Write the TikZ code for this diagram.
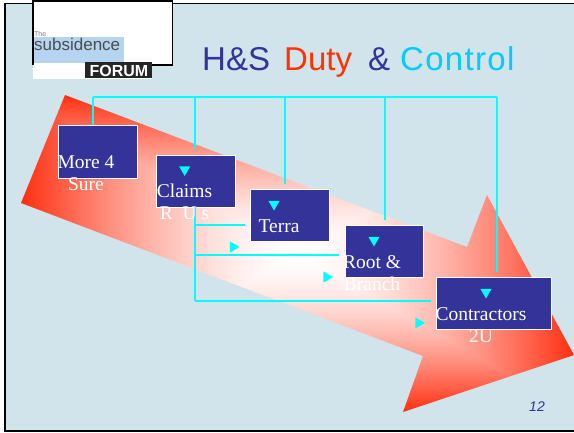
\documentclass[tikz,border=0pt]{standalone}
\usepackage{fontspec}
\setmainfont{Liberation Serif}
\newfontfamily\arialf{Liberation Sans}
\usetikzlibrary{shapes.geometric}
\pgfdeclarefunctionalshading{arrowglow}{\pgfpointorigin}{\pgfpoint{100bp}{100bp}}{}{
  50 sub abs exch 50 sub abs
  2 copy gt {pop} {exch pop} ifelse
  25 div 1.6 exp
  dup 0.82 mul 1 exch sub exch 0.94 mul 1 exch sub
  1 3 1 roll
}
\definecolor{slidebg}{HTML}{D1E3EB}
\definecolor{boxblue}{HTML}{333399}
\definecolor{ctrlblue}{HTML}{00CCFF}
\definecolor{dutyred}{HTML}{FF3300}
\definecolor{linkcyan}{HTML}{00FFFF}
\definecolor{logoblue}{HTML}{B4D4F0}
\tikzset{
  actor/.style={draw=white,fill=boxblue,line width=1.3pt,inner sep=0pt,anchor=north west},
  label/.style={text=white,font=\fontsize{19.5}{22}\selectfont,align=center,inner sep=0pt},
  link/.style={draw=linkcyan,line width=1.6pt},
  tridown/.style={regular polygon,regular polygon sides=3,shape border rotate=180,fill=linkcyan,inner sep=0pt,minimum size=13pt},
  triright/.style={regular polygon,regular polygon sides=3,shape border rotate=-90,fill=linkcyan,inner sep=0pt,minimum size=13pt},
  titlepart/.style={font=\arialf\fontsize{33}{36}\selectfont,inner sep=0pt,anchor=base west}
}
\begin{document}
\begin{tikzpicture}[x=1pt,y=-1pt]
\useasboundingbox (0,0) rectangle (574,432);
\fill[white] (0,0) rectangle (574,432);
\draw[black,line width=1.5pt,fill=slidebg] (5,3.5) rectangle (576,431);
% logo
\fill[white] (33,0) rectangle (172,65);
\fill[white] (33,65) rectangle (152,79);
\draw[black,line width=1.5pt] (33,65) -- (33,1) -- (172.5,1) -- (172.5,65) -- (152,65);
\fill[logoblue] (34,37) rectangle (124,63);
\node[inner sep=0pt,anchor=base west,text=black!50,font=\arialf\fontsize{7}{8}\selectfont] (logoa) at (34,36) {The};
\node[inner sep=0pt,anchor=base west,text=black!70,font=\arialf\fontsize{17}{18}\selectfont] (logob) at (34,50) {subsidence};
\fill[black!85] (85,62) rectangle (152,78);
\node[inner sep=0pt,anchor=base,text=white,font=\arialf\bfseries\fontsize{16}{17}\selectfont] (logoc) at (119,76) {FORUM};
% title
\node[titlepart,text=boxblue] (t1) at (202,70) {H\&S};
\node[titlepart,text=dutyred] (t2) at (284,70) {Duty};
\node[titlepart,text=boxblue] (t3) at (368,70) {\&};
\node[titlepart,text=ctrlblue] (t4) at (400,70) {\addfontfeature{LetterSpace=4}Control};
% arrow
\path[shading=arrowglow] (65,95) -- (467,247) -- (487,195) -- (574,355) -- (403,412) -- (423,356) -- (21,203) -- cycle;
% boxes
\node[actor,minimum width=79pt,minimum height=53pt] (more) at (58,125) {};
\node[actor,minimum width=79pt,minimum height=52pt] (claims) at (156,155) {};
\node[actor,minimum width=79pt,minimum height=52pt] (terra) at (250,189) {};
\node[actor,minimum width=78pt,minimum height=52pt] (root) at (345,225) {};
\node[actor,minimum width=115pt,minimum height=52pt] (contr) at (436,277) {};
% connectors
\coordinate (c0) at (93,97);
\coordinate (c1) at (195,97);
\coordinate (c2) at (285,97);
\coordinate (c3) at (385,97);
\coordinate (c4) at (497,97);
\coordinate (e1) at (195,149);
\coordinate (e2) at (285,184);
\coordinate (e3) at (385,220);
\coordinate (e4) at (497,272);
\coordinate (b0) at (195,207);
\coordinate (b1) at (195,225);
\coordinate (b2) at (195,255);
\coordinate (b3) at (195,301);
\coordinate (f1) at (245,225);
\coordinate (f2) at (339,255);
\coordinate (f3) at (431,301);
\draw[link] (c0) -- (c4);
\draw[link] (c0) -- (c0 |- more.north);
\draw[link] (c1) -- (e1);
\draw[link] (c2) -- (e2);
\draw[link] (c3) -- (e3);
\draw[link] (c4) -- (e4);
\draw[link] (b0) -- (b3);
\draw[link] (b1) -- (f1);
\draw[link] (b2) -- (f2);
\draw[link] (b3) -- (f3);
% triangles
\node[tridown] (d1) at (184.7,169.5) {};
\node[tridown] (d2) at (274,204) {};
\node[tridown] (d3) at (374,240) {};
\node[tridown] (d4) at (486,292) {};
\node[triright] (r1) at (233,247) {};
\node[triright] (r2) at (326.5,277) {};
\node[triright] (r3) at (418.5,323) {};
% texts (anchor=base sits on the last line)
\node[label,anchor=base] (l1) at (86,190) {More 4\\Sure};
\node[label,anchor=base] (l2) at (184.5,219) {Claims\\R\ \ U s};
\node[label,anchor=base] (l3) at (279,232) {Terra};
\node[label,anchor=base] (l4) at (372,290) {Root \&\\Branch};
\node[label,anchor=base] (l5) at (481,342) {Contractors\\2U};
\node[inner sep=0pt,anchor=base,text=boxblue,font=\arialf\itshape\fontsize{14}{16}\selectfont] (pg) at (537,411) {12};
\end{tikzpicture}
\end{document}
